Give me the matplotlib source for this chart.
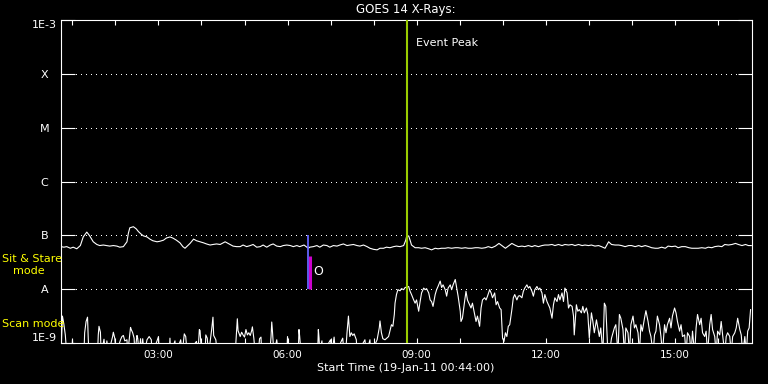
import numpy as np
import pandas as pd
import matplotlib
matplotlib.use('Agg')
import matplotlib.pyplot as plt
import matplotlib.dates as mdates
from matplotlib.ticker import NullLocator

# GOES 14 X-ray flux
start = pd.Timestamp('2011-01-19 00:44:00')
end = pd.Timestamp('2011-01-19 16:48:00')

F = -9.2  # below the plot floor

# long channel (1-8 A): minutes after start, log10 flux
long_min = [0, 4, 8, 13, 17, 22, 27, 31, 36, 40,
            45, 50, 54, 59, 64, 68, 73, 78, 82, 87,
            92, 94, 96, 101, 105, 108, 112, 115, 120, 124,
            128, 134, 138, 143, 147, 152, 156, 161, 166, 170,
            173, 177, 180, 185, 189, 194, 199, 203, 208, 212,
            217, 222, 229, 236, 240, 245, 250, 254, 259, 264,
            268, 273, 278, 282, 287, 292, 296, 301, 306, 310,
            315, 320, 324, 329, 333, 339, 345, 347, 352, 357,
            361, 366, 371, 375, 380, 385, 389, 394, 399, 403,
            408, 413, 417, 422, 427, 431, 436, 441, 445, 450,
            454, 459, 464, 468, 473, 478, 481, 482, 485, 487,
            489, 494, 499, 503, 508, 513, 517, 522, 526, 531,
            536, 540, 545, 550, 554, 559, 564, 568, 573, 578,
            582, 587, 592, 596, 601, 606, 611, 615, 620, 624,
            629, 633, 638, 643, 647, 652, 657, 661, 666, 671,
            675, 680, 685, 689, 694, 699, 703, 708, 713, 717,
            722, 727, 731, 736, 740, 745, 750, 754, 759, 764,
            768, 773, 778, 782, 787, 792, 796, 801, 806, 810,
            815, 820, 824, 829, 833, 838, 843, 847, 852, 857,
            861, 866, 871, 876, 880, 885, 889, 894, 899, 903,
            908, 912, 917, 922, 926, 931, 936, 941, 945, 950,
            955, 959, 963]
long_log = [-7.21, -7.22, -7.21, -7.24, -7.22, -7.25, -7.19, -7.03, -6.94, -7.01,
            -7.12, -7.17, -7.19, -7.18, -7.19, -7.20, -7.19, -7.20, -7.22, -7.21,
            -7.12, -6.96, -6.86, -6.84, -6.88, -6.93, -6.98, -7.01, -7.03, -7.07,
            -7.10, -7.12, -7.11, -7.09, -7.05, -7.03, -7.05, -7.09, -7.14, -7.21,
            -7.24, -7.19, -7.15, -7.07, -7.10, -7.12, -7.14, -7.16, -7.18, -7.17,
            -7.16, -7.17, -7.12, -7.17, -7.20, -7.21, -7.21, -7.18, -7.21, -7.19,
            -7.17, -7.22, -7.21, -7.18, -7.22, -7.18, -7.16, -7.20, -7.21, -7.19,
            -7.18, -7.19, -7.21, -7.19, -7.21, -7.18, -7.24, -7.22, -7.21, -7.19,
            -7.22, -7.18, -7.19, -7.22, -7.19, -7.20, -7.18, -7.16, -7.19, -7.18,
            -7.17, -7.19, -7.20, -7.18, -7.21, -7.24, -7.26, -7.27, -7.24, -7.24,
            -7.22, -7.23, -7.21, -7.20, -7.21, -7.19, -7.09, -7.03, -7.01, -7.09,
            -7.18, -7.23, -7.23, -7.24, -7.23, -7.25, -7.27, -7.24, -7.25, -7.24,
            -7.24, -7.23, -7.24, -7.23, -7.23, -7.24, -7.23, -7.24, -7.24, -7.23,
            -7.23, -7.24, -7.23, -7.21, -7.23, -7.20, -7.15, -7.19, -7.24, -7.20,
            -7.15, -7.18, -7.21, -7.20, -7.21, -7.19, -7.21, -7.19, -7.21, -7.19,
            -7.18, -7.18, -7.17, -7.19, -7.17, -7.19, -7.17, -7.18, -7.17, -7.19,
            -7.17, -7.19, -7.18, -7.19, -7.18, -7.20, -7.19, -7.21, -7.24, -7.12,
            -7.17, -7.18, -7.18, -7.19, -7.21, -7.19, -7.19, -7.21, -7.19, -7.21,
            -7.19, -7.21, -7.23, -7.24, -7.24, -7.22, -7.24, -7.20, -7.21, -7.20,
            -7.23, -7.21, -7.21, -7.23, -7.24, -7.24, -7.24, -7.23, -7.24, -7.22,
            -7.23, -7.21, -7.20, -7.21, -7.17, -7.18, -7.17, -7.15, -7.17, -7.19,
            -7.17, -7.19, -7.19]

# short channel (0.5-4 A)
short_min = [0, 2, 4, 6, 8, 15, 16, 17, 32, 33,
             35, 37, 38, 39, 51, 52, 53, 55, 56, 60,
             62, 64, 66, 72, 73, 75, 77, 83, 85, 87,
             89, 92, 93, 97, 98, 100, 102, 103, 106, 107,
             109, 111, 112, 114, 116, 120, 123, 126, 127, 134,
             136, 137, 151, 152, 153, 159, 160, 167, 169, 172,
             174, 176, 189, 191, 193, 194, 196, 201, 202, 204,
             206, 210, 212, 213, 216, 218, 243, 246, 247, 250,
             252, 254, 256, 258, 260, 262, 264, 266, 267, 269,
             271, 275, 277, 279, 280, 291, 293, 294, 295, 297,
             301, 303, 315, 316, 318, 331, 332, 333, 335, 358,
             359, 360, 361, 364, 365, 376, 378, 381, 383, 393,
             395, 397, 399, 400, 401, 403, 405, 407, 409, 412,
             413, 424, 426, 431, 432, 441, 444, 445, 447, 449,
             452, 457, 459, 461, 463, 465, 466, 468, 470, 473,
             475, 478, 480, 485, 487, 489, 492, 494, 496, 499,
             501, 503, 506, 508, 510, 513, 515, 517, 519, 522,
             524, 526, 529, 531, 533, 536, 538, 540, 543, 545,
             547, 550, 552, 554, 557, 558, 560, 563, 565, 567,
             570, 572, 574, 577, 579, 581, 584, 586, 588, 591,
             593, 595, 598, 600, 602, 605, 607, 609, 612, 614,
             616, 618, 620, 622, 624, 626, 629, 631, 633, 636,
             638, 640, 643, 645, 647, 650, 652, 654, 657, 659,
             661, 664, 666, 668, 671, 673, 675, 678, 680, 682,
             685, 687, 689, 692, 694, 696, 699, 701, 703, 706,
             708, 710, 713, 715, 716, 719, 721, 723, 726, 728,
             730, 733, 735, 737, 740, 742, 744, 747, 749, 751,
             753, 756, 758, 760, 763, 765, 768, 772, 774, 777,
             779, 781, 784, 786, 788, 791, 793, 795, 798, 800,
             802, 805, 807, 809, 811, 814, 816, 819, 821, 823,
             826, 828, 830, 832, 835, 837, 839, 842, 844, 846,
             849, 851, 853, 856, 858, 860, 863, 865, 867, 870,
             872, 874, 877, 879, 881, 884, 886, 888, 891, 893,
             895, 898, 900, 902, 905, 907, 909, 912, 914, 916,
             919, 921, 923, 926, 928, 930, 933, 935, 937, 940,
             942, 944, 947, 949, 951, 954, 956, 958, 960, 962]
short_log = [F, -8.50, -8.65, -8.85, F, F, -8.94, F, F, -8.81,
             -8.60, -8.52, -8.91, F, F, -8.85, -8.69, -8.80, F, -8.93,
             F, -8.96, F, -8.88, -8.80, -8.91, F, -8.94, -8.88, -8.86,
             -8.96, -8.94, F, -8.71, -8.75, -8.81, -8.91, F, -8.86, -8.91,
             F, -8.92, F, -8.92, F, -8.94, -8.88, -8.94, F, -8.96,
             -8.88, F, F, -8.91, F, -8.96, F, -8.94, F, -8.83,
             -8.88, F, -8.97, F, -8.75, -8.77, F, F, -8.85, -8.91,
             F, -8.77, -8.52, -8.86, -8.94, F, F, -8.55, -8.77, -8.88,
             -8.80, -8.85, -8.89, -8.75, -8.85, -8.81, -8.86, -8.77, -8.70, -8.91,
             F, F, -8.92, -8.89, F, F, -8.89, -8.61, -8.78, F,
             -8.94, F, F, -8.88, F, F, -8.75, -8.88, F, F,
             -8.75, -8.91, F, -8.96, F, -8.94, F, -8.89, F, -8.91,
             F, F, -8.81, -8.66, -8.50, -8.88, -8.81, -8.86, -8.83, -8.94,
             F, -8.94, F, -8.94, F, -8.94, -8.72, -8.59, -8.81, -8.92,
             -8.94, -8.88, -8.77, -8.66, -8.69, -8.47, -8.26, -8.10, -8.01, -8.03,
             -7.99, -8.01, -7.97, -7.95, -8.04, -8.10, -8.20, -8.26, -8.20, -8.41,
             -8.23, -8.07, -7.98, -8.01, -7.99, -8.07, -8.20, -8.23, -8.32, -8.10,
             -8.01, -7.95, -7.85, -7.97, -7.92, -8.01, -8.13, -7.98, -7.92, -8.01,
             -7.92, -7.82, -7.98, -8.13, -8.41, -8.60, -8.54, -8.23, -8.04, -8.20,
             -8.29, -8.35, -8.26, -8.47, -8.60, -8.50, -8.69, -8.35, -8.20, -8.16,
             -8.20, -8.13, -8.01, -8.07, -8.16, -8.07, -8.29, -8.23, -8.35, -8.38,
             -8.91, -8.97, -8.81, -8.88, -8.69, -8.66, -8.38, -8.16, -8.10, -8.20,
             -8.13, -8.12, -8.16, -8.04, -7.98, -7.92, -7.98, -7.95, -8.04, -8.13,
             -8.01, -7.95, -8.01, -7.98, -8.07, -8.26, -8.10, -8.23, -8.29, -8.35,
             -8.54, -8.29, -8.16, -8.23, -8.10, -8.20, -8.07, -8.23, -7.98, -8.07,
             -8.35, -8.29, -8.32, -8.50, -8.85, -8.29, -8.41, -8.38, -8.44, -8.32,
             -8.44, -8.35, -8.47, -8.91, -8.44, -8.60, -8.81, -8.57, -8.72, -8.88,
             -8.72, F, -8.26, -8.32, F, F, -8.91, -8.72, -8.66, F,
             -8.47, -8.54, -8.75, F, -8.72, -8.81, F, -8.66, -8.50, -8.72,
             -8.66, -8.81, F, -8.66, -8.78, -8.54, -8.40, -8.60, -8.78, -8.88,
             F, -8.85, -8.78, -8.50, -8.66, -8.88, F, -8.66, -8.81, -8.66,
             -8.54, -8.72, -8.50, -8.35, -8.44, -8.60, -8.78, -8.66, -8.88, -8.85,
             F, -8.81, -8.88, F, -8.78, F, -8.72, -8.47, -8.66, -8.54,
             -8.81, -8.88, -8.78, F, -8.66, -8.47, -8.75, -8.88, F, -8.78,
             -8.85, -8.60, -8.85, F, -8.88, -8.81, -8.88, F, -8.88, -8.81,
             -8.72, -8.54, -8.75, -8.85, F, -8.88, F, -8.78, -8.72, -8.38]

levels = [1e-9, 1e-8, 1e-7, 1e-6, 1e-5, 1e-4, 1e-3]
level_labels = ['1E-9', 'A', 'B', 'C', 'M', 'X', '1E-3']

peak_min = 482        # event peak line
stare_min = 345       # sit & stare marker
stare_top = -7.38     # top of magenta part

def to_time(minutes):
    return start + pd.to_timedelta(minutes, unit='min')

long_t = to_time(long_min)
short_t = to_time(short_min)

fig = plt.figure(figsize=(7.68, 3.84), dpi=100, facecolor='black')
ax = fig.add_axes([61/768, 41/384, 691/768, 323/384], facecolor='black')

ax.set_yscale('log')
ax.set_ylim(1e-9, 1e-3)
ax.set_xlim(start, end)

# dotted level lines
for lv in levels[1:-1]:
    ax.axhline(lv, color='white', lw=0.72, ls=(0, (1, 5)), antialiased=False, zorder=1)

ax.plot(long_t, 10.0 ** np.array(long_log), color='white', lw=0.8, zorder=2)
ax.plot(short_t, 10.0 ** np.array(short_log), color='white', lw=0.8, zorder=2)

# event peak
ax.axvline(to_time(peak_min), color='#99cc00', lw=1.5, zorder=3)
ax.annotate('Event Peak', xy=(to_time(peak_min), 1), xycoords=('data', 'axes fraction'),
            xytext=(10, -23), textcoords='offset pixels', color='white',
            fontsize=8, ha='left', va='center')

# sit & stare mode marker
ax.vlines(to_time(stare_min), 1e-8, 1e-7, color='#6464ff', lw=1.3, zorder=3)
ax.vlines(to_time(stare_min + 3), 1e-8, 10 ** stare_top, color='#cc00cc', lw=2.2,
          zorder=3)
ax.annotate('O', xy=(to_time(stare_min + 3), 10 ** -7.68), xytext=(3, 0),
            textcoords='offset pixels', color='white', fontsize=9,
            ha='left', va='center', zorder=4)

# axes styling
for s in ax.spines.values():
    s.set_color('white')
    s.set_linewidth(0.8)

ax.set_yticks(levels, level_labels, ha='center')
ax.yaxis.set_minor_locator(NullLocator())
ax.tick_params(axis='y', which='major', direction='in', length=10, width=0.8,
               color='white', left=True, right=True, labelcolor='white',
               labelsize=8, pad=12)
yl = ax.get_yticklabels()
yl[0].set_va('bottom')
yl[-1].set_va('top')

ax.xaxis.set_major_locator(mdates.HourLocator(byhour=[3, 6, 9, 12, 15]))
ax.xaxis.set_major_formatter(mdates.DateFormatter('%H:%M'))
ax.xaxis.set_minor_locator(mdates.HourLocator())
ax.tick_params(axis='x', which='both', direction='in', length=3.6, width=0.8,
               color='white', top=True, bottom=True, labelcolor='white',
               labelsize=7.5, pad=5)

fig.text(406/768, 1 - 9.5/384, 'GOES 14 X-Rays:', color='white', fontsize=8.5,
         ha='center', va='center')
fig.text(406/768, 1 - 368/384, 'Start Time (19-Jan-11 00:44:00)', color='white',
         fontsize=8, ha='center', va='center')

fig.text(2/768, 1 - 259/384, 'Sit & Stare', color='yellow', fontsize=8,
         ha='left', va='center')
fig.text(13/768, 1 - 271.5/384, 'mode', color='yellow', fontsize=8,
         ha='left', va='center')
fig.text(2/768, 1 - 324/384, 'Scan mode', color='yellow', fontsize=8,
         ha='left', va='center')

fig.savefig('out.png', dpi=100, facecolor='black')
